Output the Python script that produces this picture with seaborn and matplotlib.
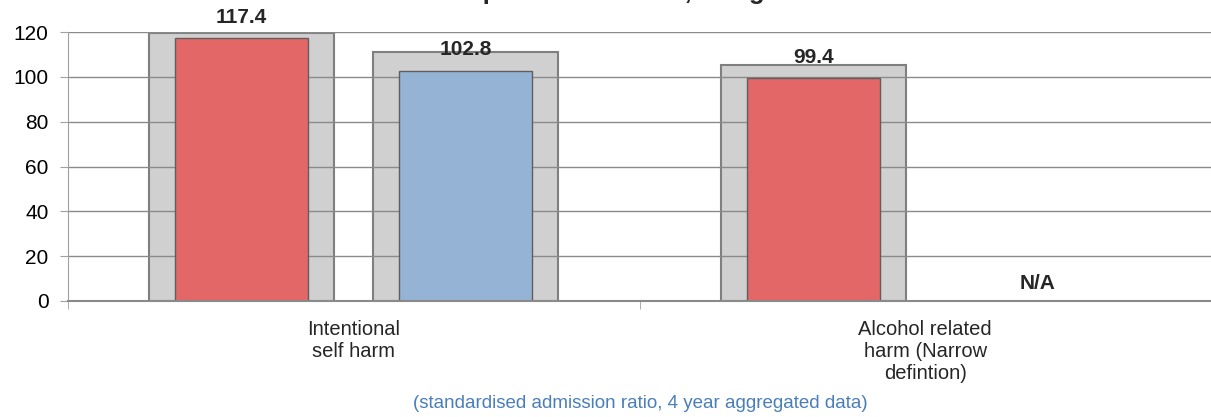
import numpy as np
import pandas as pd
import seaborn as sns
import matplotlib.pyplot as plt

# chart data
categories = ["Intentional\nself harm", "Alcohol related\nharm (Narrow\ndefintion)"]
series = ["Area A", "Area B"]
ratio_a = [117.4, 99.4]
ratio_b = [102.8, np.nan]
upper_a = [119.5, 105.4]
upper_b = [111.0, np.nan]
yticks = [0, 20, 40, 60, 80, 100, 120]

title = "Hospital admissions, all ages"
note = "(standardised admission ratio, 4 year aggregated data)"

df = pd.DataFrame({
    "category": categories * 2,
    "series": [series[0]] * 2 + [series[1]] * 2,
    "ratio": ratio_a + ratio_b,
    "upper": upper_a + upper_b,
})

sns.set_style("white")
plt.rcParams["font.family"] = ["Liberation Sans", "DejaVu Sans"]

fig = plt.figure(figsize=(12.11, 4.17), dpi=100)
ax = fig.add_axes([68 / 1211, 1 - 301 / 417, 1 - 68 / 1211, (301 - 32) / 417])

# grey background bars
sns.barplot(data=df, x="category", y="upper", hue="series", order=categories,
            hue_order=series, palette=["#d0d0d0", "#d0d0d0"], width=0.784,
            gap=0.174, edgecolor="#7f7f7f", linewidth=1.5, legend=False,
            saturation=1, ax=ax, zorder=2)
# coloured value bars
sns.barplot(data=df, x="category", y="ratio", hue="series", order=categories,
            hue_order=series, palette=["#e46767", "#95b3d4"], width=0.784,
            gap=0.406, edgecolor="#5e5e5e", linewidth=1.0, legend=False,
            saturation=1, ax=ax, zorder=3)

ax.set_xlim(-0.5, 1.5)
ax.set_ylim(0, 120)
ax.set_yticks(yticks)
ax.yaxis.grid(True, color="#8a8a8a", linewidth=1.0, zorder=4)
ax.set_axisbelow(False)
for line in ax.get_ygridlines():
    line.set_zorder(4)
ax.set_xlabel("")
ax.set_ylabel("")

for side in ["top", "right"]:
    ax.spines[side].set_visible(False)
ax.spines["left"].set_color("#a0a0a0")
ax.spines["bottom"].set_color("#8a8a8a")
ax.spines["bottom"].set_linewidth(1.5)
ax.spines["left"].set_zorder(5)
ax.spines["bottom"].set_zorder(5)

ax.tick_params(axis="y", left=True, length=6, color="#a0a0a0", labelsize=15,
               labelcolor="#000000", pad=8)
ax.set_xticks([0, 1])
ax.set_xticklabels(categories, fontsize=14.5, linespacing=1.2)
ax.tick_params(axis="x", which="major", length=0, pad=14)
ax.set_xticks([-0.5, 0.5, 1.5], minor=True)
ax.tick_params(axis="x", which="minor", length=6, color="#a0a0a0", bottom=True)

# value labels over the coloured bars
value_containers = ax.containers[2:]
for cont in value_containers:
    labels = [f"{b.get_height():.1f}" if np.isfinite(b.get_height()) else ""
              for b in cont]
    ax.bar_label(cont, labels=labels, padding=8, fontsize=15,
                 fontweight="bold", clip_on=False, zorder=6)

ax.text(1.196, 8, "N/A", ha="center", va="center", fontsize=15,
        fontweight="bold")

fig.text(614 / 1211, 1 + 1.5 / 417, title, ha="center", va="baseline",
         fontsize=18.5, fontweight="bold")
fig.text(640 / 1211, 1 - 403 / 417, note, ha="center", va="center",
         fontsize=13.5, color="#4a7ebb")

fig.savefig("out.png", dpi=100)
